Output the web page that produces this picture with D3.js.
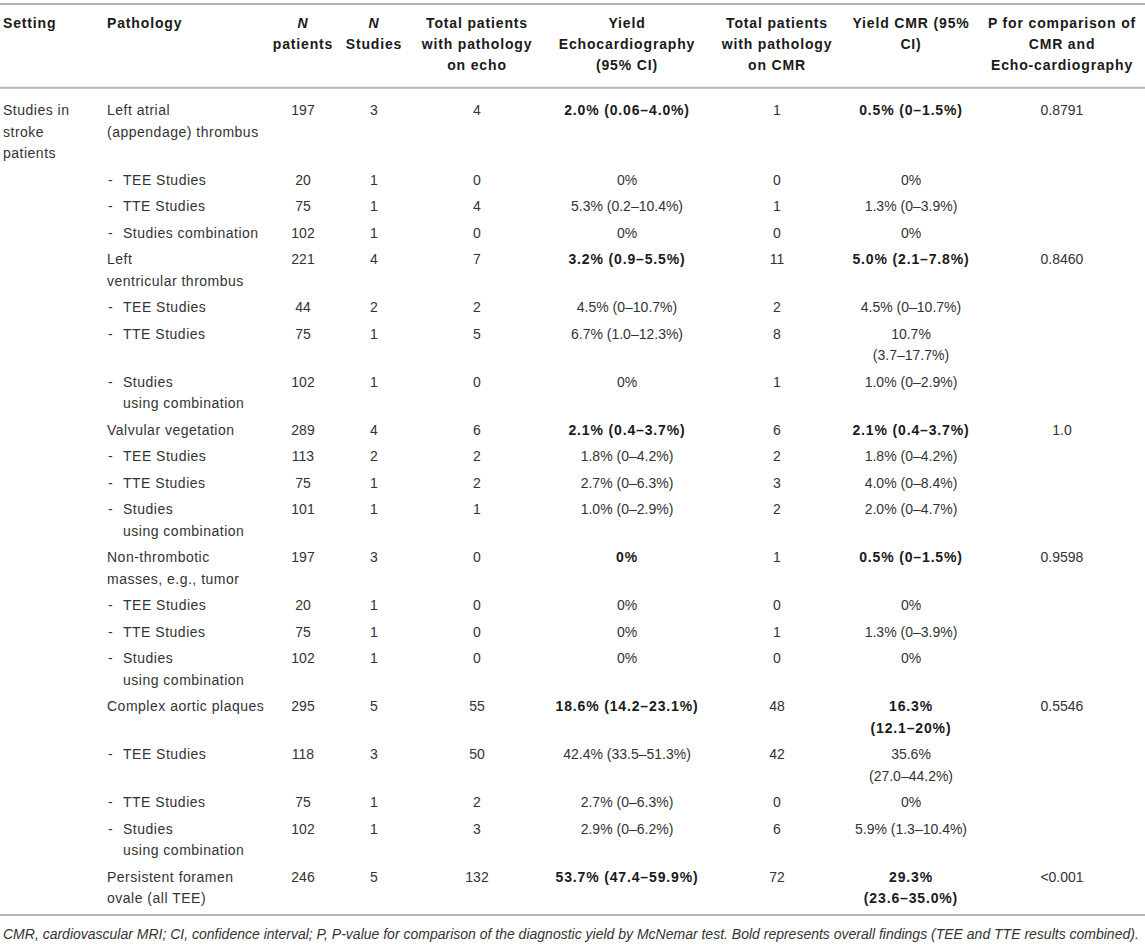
<!DOCTYPE html>
<html>
<head>
<meta charset="utf-8">
<script src="https://cdn.jsdelivr.net/npm/d3@7"></script>
<style>
  body { margin: 0; background: #fff; }
  text { font-family: "Liberation Sans", Arial, Helvetica, sans-serif; font-size: 14px; fill: #333; }
  .bold { font-weight: bold; fill: #1a1a1a; letter-spacing: 0.85px; }
  .label { letter-spacing: 0.5px; }
  .rule { stroke: #b5b5b5; stroke-width: 2; }
  .note { font-style: italic; }
</style>
</head>
<body>
<div id="table"></div>
<script>
// column headers, "|" marks a line break
const headers = [
    "Setting",
    "Pathology",
    "N|patients",
    "N|Studies",
    "Total patients|with pathology|on echo",
    "Yield|Echocardiography|(95% CI)",
    "Total patients|with pathology|on CMR",
    "Yield CMR (95%|CI)",
    "P for comparison of|CMR and|Echo-cardiography",
];

const settings = ["Studies in|stroke|patients"];

const pathology = [
    "Left atrial|(appendage) thrombus", "TEE Studies", "TTE Studies", "Studies combination",
    "Left|ventricular thrombus", "TEE Studies", "TTE Studies", "Studies|using combination",
    "Valvular vegetation", "TEE Studies", "TTE Studies", "Studies|using combination",
    "Non-thrombotic|masses, e.g., tumor", "TEE Studies", "TTE Studies", "Studies|using combination",
    "Complex aortic plaques", "TEE Studies", "TTE Studies", "Studies|using combination",
    "Persistent foramen|ovale (all TEE)",
];

// 0 = overall finding (bold yields), 1 = sub-study row
const rowLevel = [0, 1, 1, 1, 0, 1, 1, 1, 0, 1, 1, 1, 0, 1, 1, 1, 0, 1, 1, 1, 0];

const nPatients = [197, 20, 75, 102, 221, 44, 75, 102, 289, 113, 75, 101, 197, 20, 75, 102, 295, 118, 75, 102, 246];
const nStudies = [3, 1, 1, 1, 4, 2, 1, 1, 4, 2, 1, 1, 3, 1, 1, 1, 5, 3, 1, 1, 5];
const totalEcho = [4, 0, 4, 0, 7, 2, 5, 0, 6, 2, 2, 1, 0, 0, 0, 0, 55, 50, 2, 3, 132];
const yieldEcho = [
    "2.0% (0.06–4.0%)", "0%", "5.3% (0.2–10.4%)", "0%",
    "3.2% (0.9–5.5%)", "4.5% (0–10.7%)", "6.7% (1.0–12.3%)", "0%",
    "2.1% (0.4–3.7%)", "1.8% (0–4.2%)", "2.7% (0–6.3%)", "1.0% (0–2.9%)",
    "0%", "0%", "0%", "0%",
    "18.6% (14.2–23.1%)", "42.4% (33.5–51.3%)", "2.7% (0–6.3%)", "2.9% (0–6.2%)",
    "53.7% (47.4–59.9%)",
];
const totalCMR = [1, 0, 1, 0, 11, 2, 8, 1, 6, 2, 3, 2, 1, 0, 1, 0, 48, 42, 0, 6, 72];
const yieldCMR = [
    "0.5% (0–1.5%)", "0%", "1.3% (0–3.9%)", "0%",
    "5.0% (2.1–7.8%)", "4.5% (0–10.7%)", "10.7%|(3.7–17.7%)", "1.0% (0–2.9%)",
    "2.1% (0.4–3.7%)", "1.8% (0–4.2%)", "4.0% (0–8.4%)", "2.0% (0–4.7%)",
    "0.5% (0–1.5%)", "0%", "1.3% (0–3.9%)", "0%",
    "16.3%|(12.1–20%)", "35.6%|(27.0–44.2%)", "0%", "5.9% (1.3–10.4%)",
    "29.3%|(23.6–35.0%)",
];
const pValue = ["0.8791", "", "", "", "0.8460", "", "", "", "1.0", "", "", "", "0.9598", "", "", "", "0.5546", "", "", "", "<0.001"];

const footnote = "CMR, cardiovascular MRI; CI, confidence interval; P, P-value for comparison of the diagnostic yield by McNemar test. Bold represents overall findings (TEE and TTE results combined).";

const width = 1145, height = 944;
const lineH = 21.5, rowPad = 5, baseShift = 5;

const columns = [
    {key: "setting", x: 3, anchor: "start"},
    {key: "pathology", x: 107, anchor: "start"},
    {key: "nPatients", x: 303, anchor: "middle"},
    {key: "nStudies", x: 374, anchor: "middle"},
    {key: "totalEcho", x: 477, anchor: "middle"},
    {key: "yieldEcho", x: 627, anchor: "middle"},
    {key: "totalCMR", x: 777, anchor: "middle"},
    {key: "yieldCMR", x: 911, anchor: "middle"},
    {key: "pValue", x: 1062, anchor: "middle"},
];
const colX = d3.scaleOrdinal().domain(columns.map(c => c.key)).range(columns.map(c => c.x));
const colAnchor = d3.scaleOrdinal().domain(columns.map(c => c.key)).range(columns.map(c => c.anchor));

const rows = pathology.map((p, i) => ({
    setting: i === 0 ? settings[0] : "",
    pathology: p,
    nPatients: String(nPatients[i]),
    nStudies: String(nStudies[i]),
    totalEcho: String(totalEcho[i]),
    yieldEcho: yieldEcho[i],
    totalCMR: String(totalCMR[i]),
    yieldCMR: yieldCMR[i],
    pValue: pValue[i],
    level: rowLevel[i],
}));

const lineCount = s => s ? s.split("|").length : 1;
rows.forEach(r => {
    r.lines = d3.max(columns, c => lineCount(r[c.key]));
});
const rowHeights = rows.map(r => r.lines * lineH + rowPad);
const bodyTop = 96.75;
const rowTops = [bodyTop].concat(Array.from(d3.cumsum(rowHeights), v => bodyTop + v));

const svg = d3.select("#table").append("svg")
    .attr("width", width)
    .attr("height", height);

// horizontal rules
const rules = [4, 87.7, 915];
svg.append("g").selectAll("line")
    .data(rules)
    .join("line")
    .attr("class", "rule")
    .attr("x1", 0).attr("x2", width)
    .attr("y1", d => d).attr("y2", d => d);

function drawLines(g, str, x, firstCenter, spacing, anchor, cls) {
    const lines = str.split("|");
    lines.forEach((line, k) => {
        const t = g.append("text")
            .attr("x", x)
            .attr("y", firstCenter + k * spacing + baseShift)
            .attr("text-anchor", anchor)
            .attr("class", cls)
            .text(line);
        if (line === "N") t.style("font-style", "italic");
    });
}

// header
const head = svg.append("g");
columns.forEach((c, i) => {
    drawLines(head, headers[i], colX(c.key), 23, 21, colAnchor(c.key), "bold");
});

// body
const body = svg.append("g");
rows.forEach((r, i) => {
    const yc = rowTops[i] + rowPad / 2 + lineH / 2;
    columns.forEach(c => {
        const val = r[c.key];
        if (!val) return;
        let x = colX(c.key);
        let cls = null;
        if (c.key === "setting" || c.key === "pathology") cls = "label";
        if (c.key === "pathology" && r.level === 1) {
            body.append("text")
                .attr("x", x + 1)
                .attr("y", yc + baseShift)
                .text("-");
            x += 16;
        }
        if ((c.key === "yieldEcho" || c.key === "yieldCMR") && r.level === 0) cls = "bold";
        drawLines(body, val, x, yc, lineH, colAnchor(c.key), cls);
    });
});

// footnote
svg.append("text")
    .attr("class", "note")
    .attr("x", 3)
    .attr("y", 939)
    .text(footnote);
</script>
</body>
</html>
